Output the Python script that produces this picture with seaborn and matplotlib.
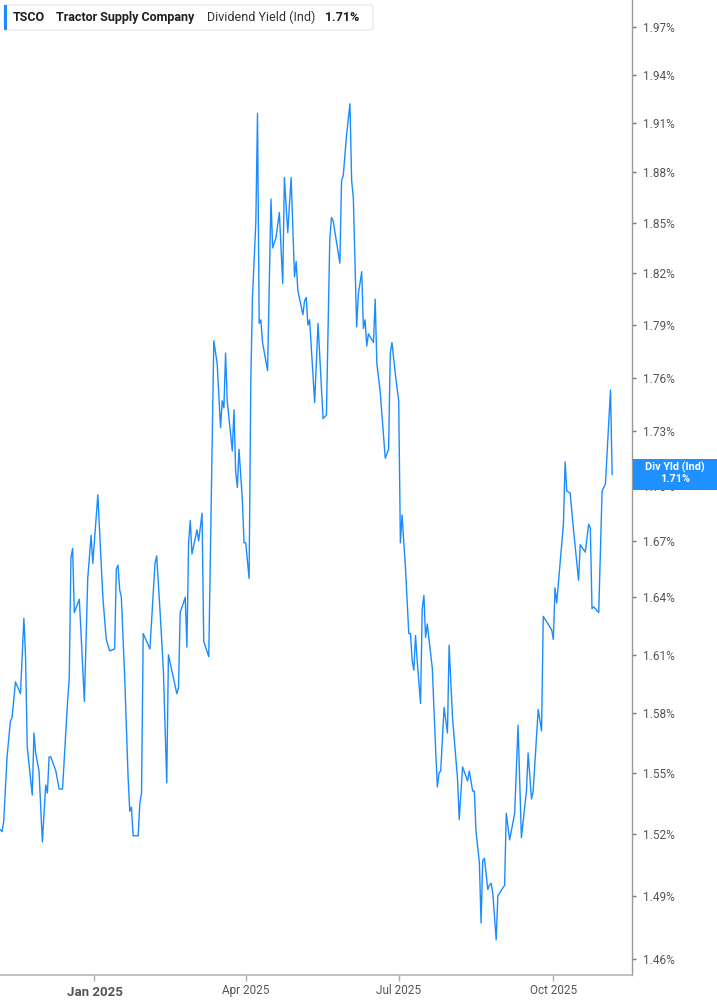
import matplotlib
matplotlib.use("Agg")
import matplotlib.pyplot as plt
import pandas as pd
import seaborn as sns
from matplotlib.patches import Rectangle, FancyBboxPatch
from matplotlib.ticker import FixedLocator, NullLocator, FixedFormatter

# ---- data ----
dates = [
    "2024-11-06", "2024-11-07", "2024-11-08", "2024-11-10", "2024-11-12", "2024-11-13",
    "2024-11-15", "2024-11-18", "2024-11-20", "2024-11-21", "2024-11-22", "2024-11-25",
    "2024-11-26", "2024-11-27", "2024-11-29", "2024-12-01", "2024-12-03", "2024-12-04",
    "2024-12-05", "2024-12-06", "2024-12-09", "2024-12-11", "2024-12-13", "2024-12-16",
    "2024-12-17", "2024-12-18", "2024-12-19", "2024-12-20", "2024-12-23", "2024-12-26",
    "2024-12-28", "2024-12-30", "2024-12-31", "2025-01-03", "2025-01-06", "2025-01-08",
    "2025-01-10", "2025-01-13", "2025-01-14", "2025-01-15", "2025-01-16", "2025-01-17",
    "2025-01-19", "2025-01-21", "2025-01-22", "2025-01-23", "2025-01-24", "2025-01-27",
    "2025-01-28", "2025-01-29", "2025-01-30", "2025-02-03", "2025-02-06", "2025-02-07",
    "2025-02-09", "2025-02-11", "2025-02-13", "2025-02-14", "2025-02-19", "2025-02-20",
    "2025-02-21", "2025-02-24", "2025-02-25", "2025-02-26", "2025-02-27", "2025-02-28",
    "2025-03-03", "2025-03-04", "2025-03-06", "2025-03-07", "2025-03-10", "2025-03-13",
    "2025-03-15", "2025-03-17", "2025-03-18", "2025-03-19", "2025-03-20", "2025-03-21",
    "2025-03-24", "2025-03-25", "2025-03-26", "2025-03-27", "2025-03-28", "2025-03-30",
    "2025-03-31", "2025-04-01", "2025-04-03", "2025-04-04", "2025-04-05", "2025-04-07",
    "2025-04-08", "2025-04-09", "2025-04-10", "2025-04-11", "2025-04-14", "2025-04-16",
    "2025-04-17", "2025-04-19", "2025-04-21", "2025-04-23", "2025-04-24", "2025-04-26",
    "2025-04-28", "2025-04-30", "2025-05-01", "2025-05-02", "2025-05-05", "2025-05-06",
    "2025-05-07", "2025-05-08", "2025-05-09", "2025-05-12", "2025-05-14", "2025-05-17",
    "2025-05-19", "2025-05-21", "2025-05-22", "2025-05-23", "2025-05-27", "2025-05-28",
    "2025-05-29", "2025-05-31", "2025-06-02", "2025-06-03", "2025-06-04", "2025-06-06",
    "2025-06-07", "2025-06-09", "2025-06-10", "2025-06-11", "2025-06-12", "2025-06-13",
    "2025-06-16", "2025-06-17", "2025-06-18", "2025-06-20", "2025-06-23", "2025-06-25",
    "2025-06-26", "2025-06-27", "2025-06-29", "2025-07-01", "2025-07-02", "2025-07-03",
    "2025-07-05", "2025-07-07", "2025-07-08", "2025-07-09", "2025-07-10", "2025-07-11",
    "2025-07-12", "2025-07-14", "2025-07-15", "2025-07-16", "2025-07-17", "2025-07-18",
    "2025-07-21", "2025-07-23", "2025-07-24", "2025-07-25", "2025-07-26", "2025-07-28",
    "2025-07-30", "2025-07-31", "2025-08-02", "2025-08-05", "2025-08-06", "2025-08-08",
    "2025-08-11", "2025-08-12", "2025-08-14", "2025-08-15", "2025-08-16", "2025-08-18",
    "2025-08-19", "2025-08-20", "2025-08-21", "2025-08-23", "2025-08-24", "2025-08-25",
    "2025-08-26", "2025-08-28", "2025-08-29", "2025-09-02", "2025-09-03", "2025-09-05",
    "2025-09-08", "2025-09-10", "2025-09-12", "2025-09-15", "2025-09-16", "2025-09-18",
    "2025-09-19", "2025-09-22", "2025-09-24", "2025-09-25", "2025-09-30", "2025-10-01",
    "2025-10-02", "2025-10-03", "2025-10-07", "2025-10-08", "2025-10-09", "2025-10-11",
    "2025-10-13", "2025-10-16", "2025-10-17", "2025-10-20", "2025-10-22", "2025-10-23",
    "2025-10-24", "2025-10-25", "2025-10-28", "2025-10-30", "2025-10-31", "2025-11-01",
    "2025-11-04", "2025-11-05",
]
div_yield = [
    1.522, 1.521, 1.526, 1.558, 1.576, 1.578,
    1.596, 1.590, 1.629, 1.609, 1.563, 1.539,
    1.570, 1.560, 1.551, 1.516, 1.544, 1.540,
    1.558, 1.558, 1.551, 1.542, 1.542, 1.586,
    1.598, 1.661, 1.666, 1.632, 1.639, 1.586,
    1.650, 1.673, 1.658, 1.695, 1.640, 1.618,
    1.612, 1.613, 1.655, 1.657, 1.644, 1.640,
    1.598, 1.548, 1.531, 1.533, 1.519, 1.519,
    1.535, 1.540, 1.621, 1.613, 1.658, 1.662,
    1.633, 1.602, 1.545, 1.610, 1.590, 1.593,
    1.632, 1.640, 1.614, 1.669, 1.681, 1.663,
    1.676, 1.670, 1.685, 1.617, 1.609, 1.781,
    1.768, 1.732, 1.747, 1.743, 1.774, 1.747,
    1.719, 1.742, 1.708, 1.699, 1.720, 1.692,
    1.669, 1.669, 1.650, 1.757, 1.806, 1.850,
    1.916, 1.791, 1.793, 1.780, 1.764, 1.864,
    1.835, 1.841, 1.856, 1.814, 1.877, 1.844,
    1.877, 1.818, 1.827, 1.810, 1.796, 1.804,
    1.806, 1.790, 1.793, 1.746, 1.791, 1.737,
    1.739, 1.840, 1.853, 1.851, 1.826, 1.875,
    1.878, 1.903, 1.922, 1.875, 1.865, 1.789,
    1.808, 1.821, 1.788, 1.793, 1.778, 1.785,
    1.780, 1.805, 1.768, 1.752, 1.715, 1.720,
    1.774, 1.780, 1.762, 1.747, 1.669, 1.684,
    1.656, 1.621, 1.621, 1.607, 1.602, 1.620,
    1.607, 1.585, 1.634, 1.641, 1.619, 1.626,
    1.603, 1.561, 1.543, 1.550, 1.551, 1.583,
    1.570, 1.615, 1.578, 1.547, 1.527, 1.553,
    1.546, 1.551, 1.541, 1.541, 1.521, 1.506,
    1.477, 1.507, 1.508, 1.493, 1.495, 1.496,
    1.491, 1.469, 1.490, 1.495, 1.530, 1.517,
    1.530, 1.574, 1.518, 1.541, 1.560, 1.537,
    1.541, 1.582, 1.571, 1.630, 1.623, 1.618,
    1.645, 1.637, 1.679, 1.713, 1.697, 1.696,
    1.676, 1.649, 1.668, 1.664, 1.679, 1.677,
    1.634, 1.635, 1.632, 1.697, 1.699, 1.701,
    1.753, 1.706,
]
y_ticks = [1.46, 1.49, 1.52, 1.55, 1.58, 1.61, 1.64, 1.67, 1.70, 1.73,
           1.76, 1.79, 1.82, 1.85, 1.88, 1.91, 1.94, 1.97]
x_tick_dates = ["2025-01-01", "2025-04-01", "2025-07-01", "2025-10-01"]
x_tick_labels = ["Jan 2025", "Apr 2025", "Jul 2025", "Oct 2025"]
ticker = "TSCO"
company = "Tractor Supply Company"
metric = "Dividend Yield (Ind)"
last_label = "1.71%"

# ---- style ----
sns.set_theme(style="white")
plt.rcParams["font.family"] = ["Roboto", "DejaVu Sans"]

LINE = "#1a8cff"
W, H = 717, 1005

df = pd.DataFrame({"date": pd.to_datetime(dates), "value": div_yield})

fig = plt.figure(figsize=(W / 100, H / 100), dpi=100)
fig.patch.set_facecolor("white")
ax = fig.add_axes([0, 30 / H, 632 / W, 975 / H])

sns.lineplot(data=df, x="date", y="value", ax=ax, color=LINE, linewidth=1.0)

ax.set_yscale("log")
ax.set_ylim(1.4525, 1.9872)
jan1 = pd.Timestamp("2025-01-01")
ax.set_xlim(jan1 - pd.Timedelta(days=56.2), jan1 + pd.Timedelta(days=319.8))

ax.yaxis.set_major_locator(FixedLocator(y_ticks))
ax.yaxis.set_major_formatter(FixedFormatter([f"{t:.2f}%" for t in y_ticks]))
ax.yaxis.set_minor_locator(NullLocator())
ax.yaxis.tick_right()
ax.set_xlabel("")
ax.set_ylabel("")

ax.set_xticks(pd.to_datetime(x_tick_dates))
ax.set_xticklabels(x_tick_labels)
ax.xaxis.set_minor_locator(NullLocator())

ax.tick_params(axis="y", which="major", right=True, left=False, length=3, width=1,
               color="#777777", labelsize=8.5, labelcolor="#555555", pad=5)
ax.tick_params(axis="x", which="major", bottom=True, length=4, width=1,
               color="#aaaaaa", labelsize=8.5, labelcolor="#555555", pad=2.5)
for lab in ax.get_xticklabels():
    if lab.get_text().startswith("Jan"):
        lab.set_fontweight("bold")
        lab.set_fontsize(9.5)
        lab.set_y(-0.002)

for s in ("left", "top"):
    ax.spines[s].set_visible(False)
ax.spines["right"].set_color("#999999")
ax.spines["right"].set_linewidth(1)
ax.spines["bottom"].set_color("#b5b5b5")
ax.spines["bottom"].set_linewidth(1.2)
ax.grid(False)

# ---- header box ----
def fx(px):
    return px / W

def fy(py):
    return 1 - py / H

hdr = FancyBboxPatch((fx(4), fy(30)), fx(369), 25 / H,
                     boxstyle="round,pad=0,rounding_size=0.003",
                     transform=fig.transFigure, facecolor="white",
                     edgecolor="#e4e4e4", linewidth=0.8, zorder=5)
fig.patches.append(hdr)
fig.patches.append(Rectangle((fx(4), fy(30)), fx(3), 25 / H, transform=fig.transFigure,
                             facecolor=LINE, edgecolor="none", zorder=6))
ty = fy(17.5)
fig.text(fx(13), ty, ticker, fontsize=9, fontweight="bold", color="#1f1f1f", va="center", zorder=7)
fig.text(fx(56), ty, company, fontsize=9, fontweight="bold", color="#1f1f1f", va="center", zorder=7)
fig.text(fx(207), ty, metric, fontsize=9, color="#333333", va="center", zorder=7)
fig.text(fx(325), ty, last_label, fontsize=9, fontweight="bold", color="#1f1f1f", va="center", zorder=7)

# ---- last value tag ----
fig.patches.append(Rectangle((fx(633), fy(490)), fx(84), 31 / H, transform=fig.transFigure,
                             facecolor="#1e90ff", edgecolor="none", zorder=8))
fig.text(fx(675), fy(467.5), "Div Yld (Ind)", fontsize=7.8, fontweight="bold", color="white",
         ha="center", va="center", zorder=9)
fig.text(fx(675), fy(479.5), last_label, fontsize=7.8, fontweight="bold", color="white",
         ha="center", va="center", zorder=9)

fig.savefig("out.png", dpi=100, facecolor="white")
